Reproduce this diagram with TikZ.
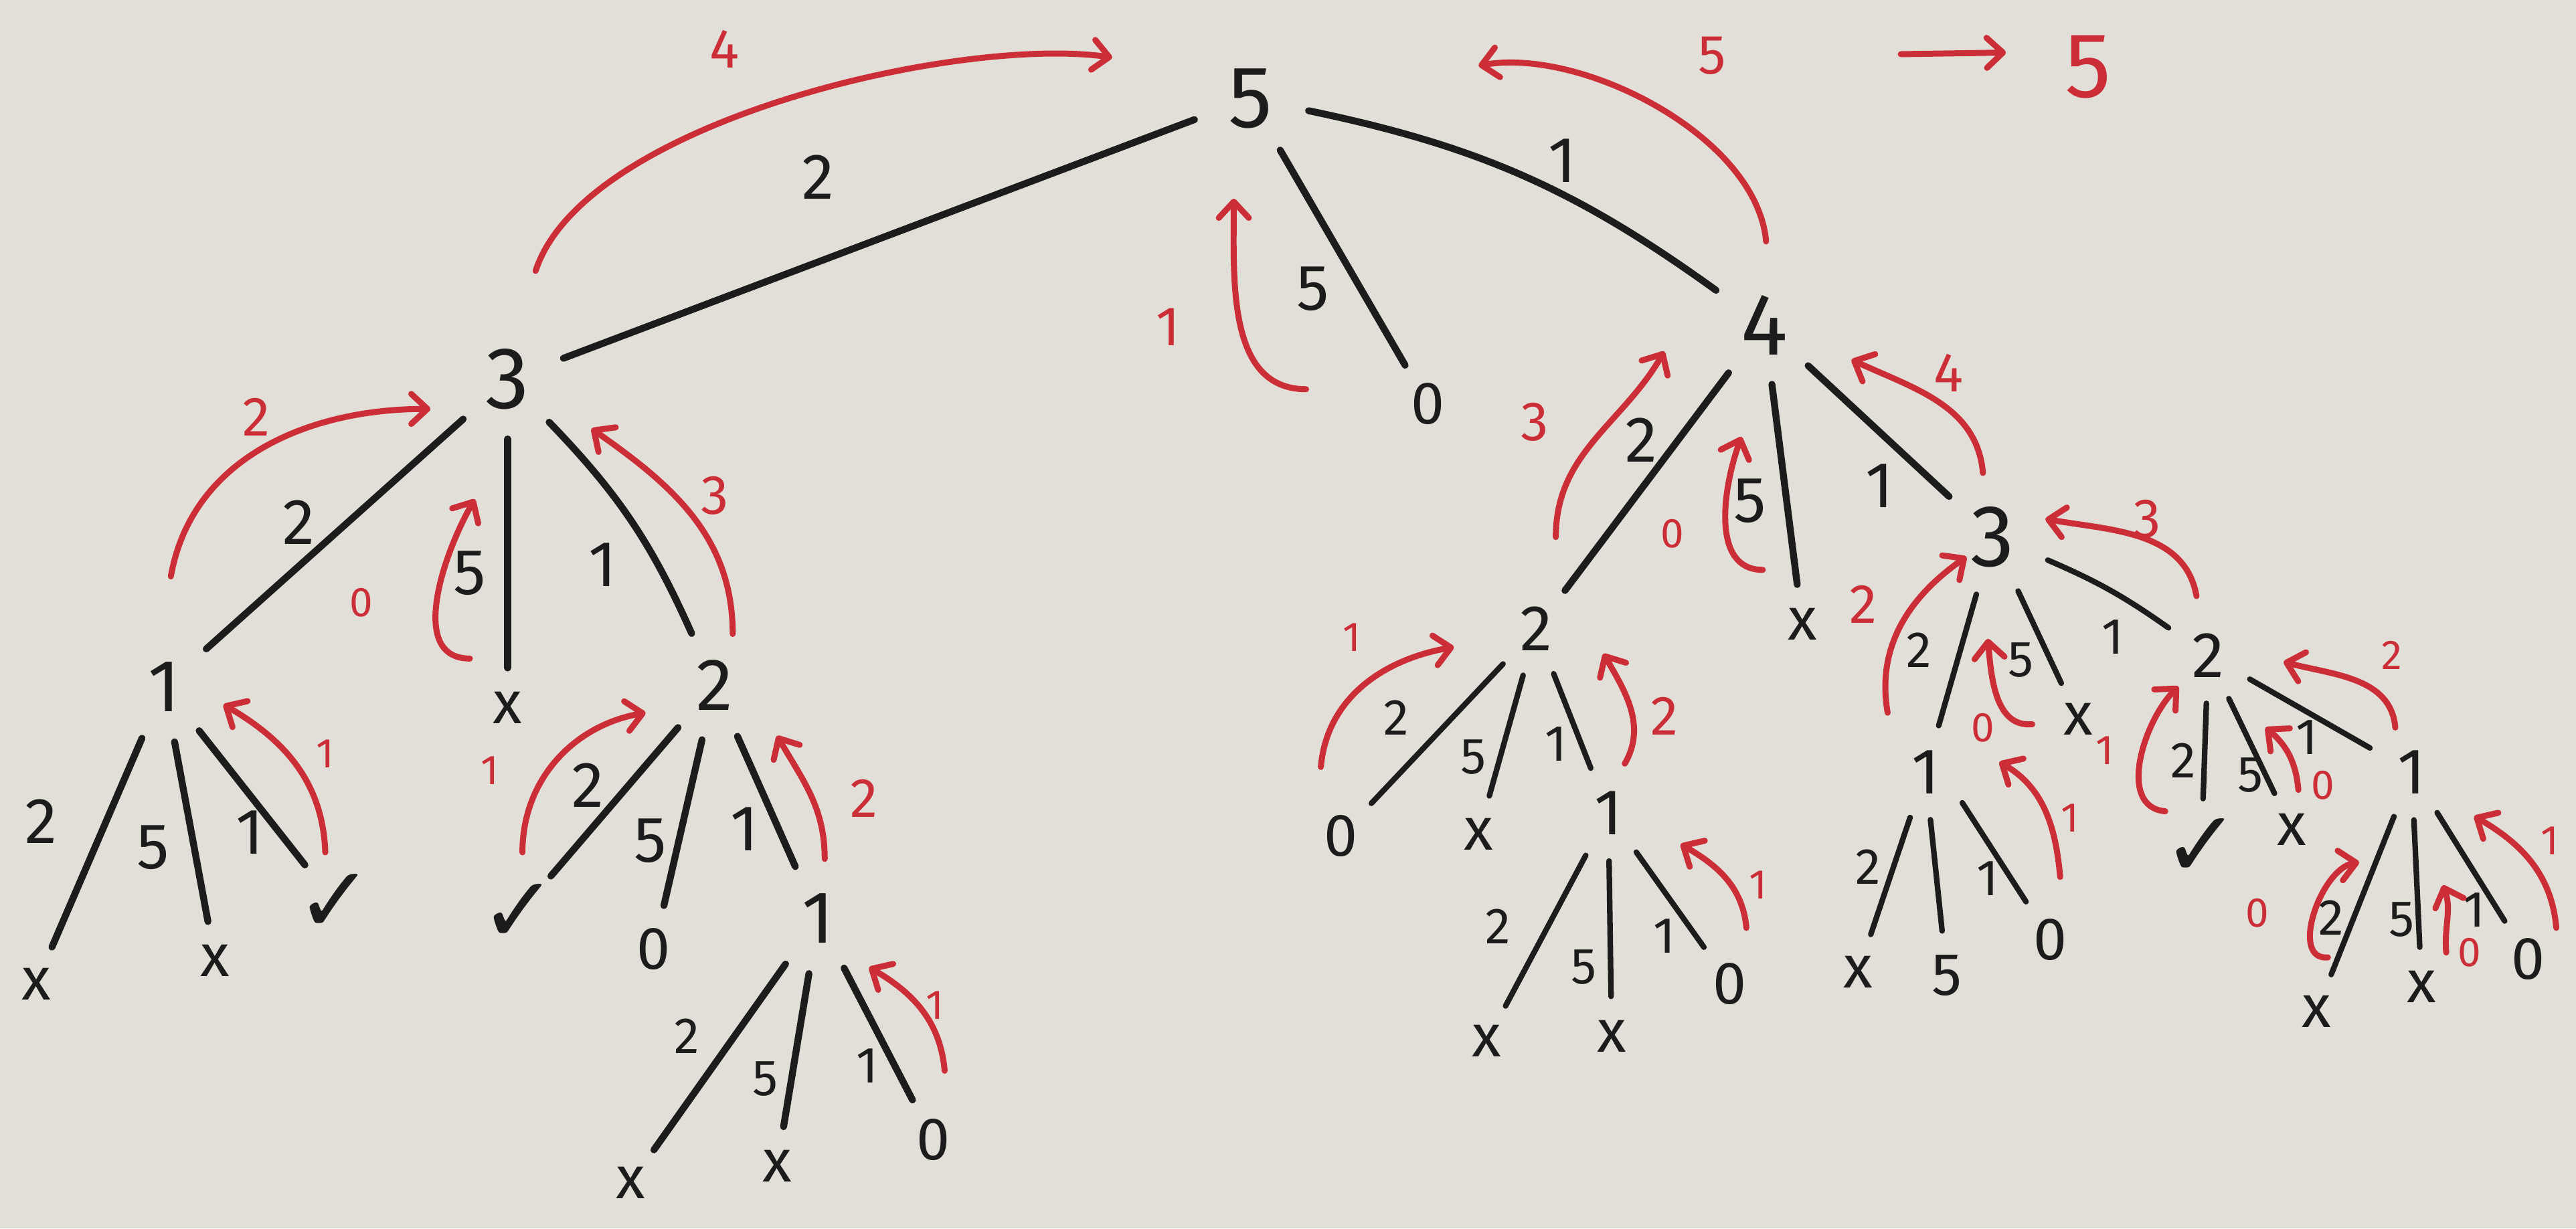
\documentclass[tikz,border=0pt]{standalone}
\usepackage{fontspec}
\setmainfont{Fira Sans}
\newfontfamily\symf{DejaVu Sans}
\usetikzlibrary{arrows.meta}
\definecolor{ink}{RGB}{28,28,28}
\definecolor{mred}{RGB}{204,46,56}
\definecolor{board}{RGB}{226,223,216}
\newcommand{\rarc}[6][1]{\coordinate (#2s) at (#3); \coordinate (#2e) at (#4); \draw[redarc] (#2s) to[out=#5,in=#6,looseness=#1] (#2e);}
\begin{document}
\begin{tikzpicture}[x=0.025cm,y=0.025cm,
 every node/.style={inner sep=0pt, text=ink},
 nbig/.style={circle, minimum size=1.8cm, font=\fontsize{38}{40}\selectfont},
 nmid/.style={circle, minimum size=1.7cm, font=\fontsize{32}{34}\selectfont},
 nsml/.style={circle, minimum size=1.45cm, font=\fontsize{28}{30}\selectfont},
 lf/.style={circle, minimum size=1.35cm, font=\fontsize{26}{28}\selectfont},
 lfs/.style={circle, minimum size=1.2cm, font=\fontsize{26}{28}\selectfont},
 lfc/.style={circle, minimum size=1.35cm, font=\symf\fontsize{40}{42}\selectfont},
 elab/.style={font=\fontsize{28}{30}\selectfont},
 elabs/.style={font=\fontsize{22}{24}\selectfont},
 rlab/.style={text=mred, font=\fontsize{24}{26}\selectfont},
 rlabs/.style={text=mred, font=\fontsize{18}{20}\selectfont},
 edge/.style={draw=ink, line width=3pt, line cap=round},
 edgesm/.style={draw=ink, line width=2.4pt, line cap=round},
 redarc/.style={draw=mred, line width=2.6pt, line cap=round, -{Straight Barb[length=7pt,width=13pt,round]}},
]
\fill[board] (0,0) rectangle (1568,-748);
\useasboundingbox (0,0) rectangle (1568,-748);

% ---------- nodes: root level
\node[nbig] (r) at (761,-60) {5};
\node[nbig] (L3) at (309,-231) {3};
\node[nbig] (R4) at (1074,-198) {4};
\node[lf] (r0) at (869,-246) {0};

% ---------- left tree
\node[nmid] (a1) at (100,-418) {1};
\node[lfs] (ax) at (309,-431) {x};
\node[nmid] (a2) at (435,-417) {2};
\node[lfs] (a1x) at (22,-599) {x};
\node[lfs] (a1a) at (131,-585) {x};
\node[lfc] (a1c) at (204,-550) {✓};
\node[lfc] (a2c) at (316,-556) {✓};
\node[lf] (a20) at (398,-578) {0};
\node[nmid] (a21) at (498,-559) {1};
\node[lfs] (a21x1) at (384,-720) {x};
\node[lfs] (a21x2) at (473,-710) {x};
\node[lf] (a210) at (568,-694) {0};

% ---------- right tree
\node[nsml] (b2) at (935,-383) {2};
\node[lfs] (bx) at (1097,-380) {x};
\node[nbig] (b3) at (1213,-327) {3};
\node[lf] (b20) at (816,-509) {0};
\node[lfs] (b2x) at (900,-508) {x};
\node[nsml] (b21) at (979,-495) {1};
\node[lfs] (b21x1) at (905,-634) {x};
\node[lfs] (b21x2) at (981,-631) {x};
\node[lf] (b210) at (1053,-599) {0};
\node[nsml] (b31) at (1172,-470) {1};
\node[lfs] (b3x) at (1265,-438) {x};
\node[nsml] (b32) at (1344,-399) {2};
\node[lfs] (b31x) at (1131,-592) {x};
\node[lf] (b315) at (1185,-594) {5};
\node[lf] (b310) at (1248,-572) {0};
\node[lfc] (b32c) at (1340,-516) {✓};
\node[lfs] (b32x) at (1395,-505) {x};
\node[nsml] (b321) at (1468,-470) {1};
\node[lfs] (b321x1) at (1410,-616) {x};
\node[lfs] (b321x2) at (1474,-601) {x};
\node[lf] (b3210) at (1539,-584) {0};

% ---------- black edges
\draw[edge] (r) -- (L3);
\draw[edge] (r) to[bend left=12] (R4);
\draw[edge] (r) -- (r0);
\draw[edge] (L3) -- (a1);
\draw[edge] (L3) -- (ax);
\draw[edge] (L3) to[bend left=10] (a2);
\draw[edge] (a1) -- (a1x);
\draw[edge] (a1) -- (a1a);
\draw[edge] (a1) -- (a1c);
\draw[edge] (a2) -- (a2c);
\draw[edge] (a2) -- (a20);
\draw[edge] (a2) -- (a21);
\draw[edge] (a21) -- (a21x1);
\draw[edge] (a21) -- (a21x2);
\draw[edge] (a21) -- (a210);
\draw[edge] (R4) -- (b2);
\draw[edge] (R4) -- (bx);
\draw[edge] (R4) -- (b3);
\draw[edgesm] (b2) -- (b20);
\draw[edgesm] (b2) -- (b2x);
\draw[edgesm] (b2) -- (b21);
\draw[edgesm] (b21) -- (b21x1);
\draw[edgesm] (b21) -- (b21x2);
\draw[edgesm] (b21) -- (b210);
\draw[edgesm] (b3) -- (b31);
\draw[edgesm] (b3) -- (b3x);
\draw[edgesm] (b3) to[bend left=6] (b32);
\draw[edgesm] (b31) -- (b31x);
\draw[edgesm] (b31) -- (b315);
\draw[edgesm] (b31.-40) -- (b310);
\draw[edgesm] (b32) -- (b32c);
\draw[edgesm] (b32) -- (b32x);
\draw[edgesm] (b32) -- (b321);
\draw[edgesm] (b321) -- (b321x1);
\draw[edgesm] (b321) -- (b321x2);
\draw[edgesm] (b321) -- (b3210);

% ---------- black edge labels
\node[elab] (er2) at (498,-108) {2};
\node[elab] (er5) at (799,-176) {5};
\node[elab] (er1) at (951,-98) {1};
\node[elab] (eL2) at (182,-318) {2};
\node[elab] (eL5) at (286,-349) {5};
\node[elab] (eL1) at (367,-344) {1};
\node[elab] (ea12) at (25,-500) {2};
\node[elab] (ea15) at (93,-516) {5};
\node[elab] (ea11) at (152,-507) {1};
\node[elab] (ea22) at (358,-478) {2};
\node[elab] (ea25) at (396,-512) {5};
\node[elab] (ea21) at (453,-505) {1};
\node[elabs] (eb12) at (418,-631) {2};
\node[elabs] (eb15) at (466,-657) {5};
\node[elabs] (eb11) at (528,-649) {1};
\node[elab] (eR2) at (999,-268) {2};
\node[elab] (eR5) at (1065,-305) {5};
\node[elab] (eR1) at (1144,-296) {1};
\node[elabs] (ec2) at (850,-437) {2};
\node[elabs] (ec5) at (897,-461) {5};
\node[elabs] (ec1) at (947,-453) {1};
\node[elabs] (ed2) at (912,-564) {2};
\node[elabs] (ed5) at (964,-589) {5};
\node[elabs] (ed1) at (1013,-570) {1};
\node[elabs] (ee2) at (1168,-396) {2};
\node[elabs] (ee5) at (1230,-402) {5};
\node[elabs] (ee1) at (1286,-388) {1};
\node[elabs] (ef2) at (1137,-528) {2};
\node[elabs] (ef1) at (1210,-535) {1};
\node[elabs] (eg2) at (1329,-463) {2};
\node[elabs] (eg5) at (1370,-472) {5};
\node[elabs] (eg1) at (1404,-449) {1};
\node[elabs] (eh2) at (1419,-559) {2};
\node[elabs] (eh5) at (1462,-560) {5};
\node[elabs] (eh1) at (1506,-554) {1};

% ---------- red labels
\node[rlab] (q4) at (441,-30) {4};
\node[rlab] (q1r) at (711,-199) {1};
\node[rlab] (q5) at (1042,-34) {5};
\node[text=mred, font=\fontsize{40}{42}\selectfont] (qres) at (1271,-41) {5};
\node[rlab] (qa2) at (156,-254) {2};
\node[rlabs] (qa0) at (220,-367) {0};
\node[rlab] (qa3) at (435,-302) {3};
\node[rlabs] (qb1) at (198,-459) {1};
\node[rlabs] (qc1) at (298,-469) {1};
\node[rlab] (qc2) at (526,-486) {2};
\node[rlabs] (qd1) at (569,-612) {1};
\node[rlab] (qe3) at (934,-257) {3};
\node[rlabs] (qe0) at (1018,-325) {0};
\node[rlab] (qe4) at (1186,-227) {4};
\node[rlabs] (qf1) at (823,-388) {1};
\node[rlab] (qf2) at (1013,-436) {2};
\node[rlabs] (qg1) at (1070,-539) {1};
\node[rlab] (qh2) at (1134,-368) {2};
\node[rlabs] (qh0) at (1207,-443) {0};
\node[rlab] (qh3) at (1307,-316) {3};
\node[rlabs] (qi1) at (1260,-498) {1};
\node[rlabs] (qj1) at (1281,-457) {1};
\node[rlabs] (qj0) at (1414,-478) {0};
\node[rlabs] (qj2) at (1456,-399) {2};
\node[rlabs] (qk0) at (1374,-556) {0};
\node[rlabs] (qk0b) at (1503,-580) {0};
\node[rlabs] (qk1) at (1552,-512) {1};

% ---------- red return arrows
\rarc[0.65]{A1}{326,-165}{677,-35}{72}{172}
\rarc{A2}{795,-237}{751,-121}{180}{-90}
\rarc[0.8]{A3}{1075,-147}{900,-40}{95}{10}
\coordinate (A4s) at (1157,-33); \coordinate (A4e) at (1221,-32);
\draw[redarc] (A4s) -- (A4e);
\rarc{A5}{104,-351}{262,-249}{80}{180}
\rarc{A6}{286,-401}{289,-304}{180}{240}
\rarc{A7}{446,-386}{360,-261}{90}{-35}
\rarc{A8}{198,-519}{136,-429}{92}{-30}
\rarc{A9}{318,-519}{393,-434}{90}{190}
\rarc{A10}{502,-523}{473,-448}{90}{-60}
\rarc{A11}{575,-652}{529,-589}{95}{-30}
\rarc{A12}{947,-327}{1013,-214}{90}{240}
\rarc{A13}{1073,-347}{1060,-266}{180}{250}
\rarc{A14}{1207,-288}{1127,-219}{95}{-25}
\rarc{A15}{1337,-363}{1245,-316}{100}{-10}
\rarc{A16}{804,-467}{885,-394}{85}{190}
\rarc{A17}{989,-465}{976,-398}{60}{-60}
\rarc{A18}{1063,-565}{1023,-514}{95}{-30}
\rarc{A19}{1149,-434}{1197,-339}{100}{215}
\rarc{A20}{1237,-441}{1210,-389}{185}{-85}
\rarc{A21}{1254,-534}{1217,-464}{95}{-30}
\rarc{A22}{1318,-494}{1326,-418}{175}{225}
\rarc{A23}{1399,-481}{1379,-443}{95}{-40}
\rarc{A24}{1458,-443}{1390,-403}{95}{-15}
\rarc{A25}{1417,-583}{1436,-525}{185}{190}
\rarc{A26}{1489,-580}{1487,-539}{95}{-70}
\rarc{A27}{1556,-565}{1506,-497}{95}{-30}
\end{tikzpicture}
\end{document}
